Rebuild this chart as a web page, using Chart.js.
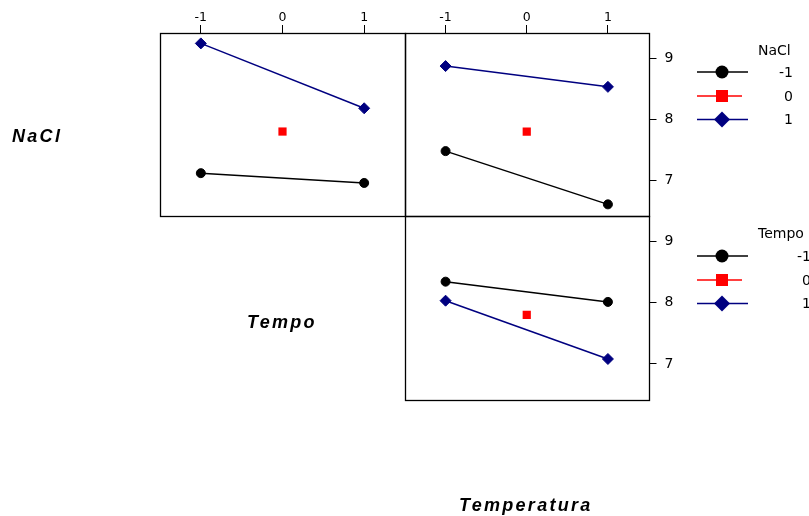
<!DOCTYPE html>
<html lang="pt">
<head>
<meta charset="UTF-8">
<title>Gráfico de interação</title>
<script src="https://cdn.jsdelivr.net/npm/chart.js"></script>
<style>
  body { margin: 0; background: #fff; overflow: hidden; }
  .area { position: relative; width: 809px; height: 516px; }
  .area canvas { position: absolute; left: 0; top: 0; }
  .fator {
    position: absolute;
    font-family: "Liberation Sans", Arial, sans-serif;
    font-weight: bold;
    font-style: italic;
    font-size: 18px;
    line-height: 18px;
    letter-spacing: 2.3px;
    color: #000;
    white-space: nowrap;
  }
</style>
</head>
<body>
<div class="area">
  <canvas id="g1" width="809" height="516"></canvas>
  <canvas id="g2" width="809" height="516"></canvas>
  <canvas id="g3" width="809" height="516"></canvas>
  <div class="fator" style="left:12px; top:127px">NaCl</div>
  <div class="fator" style="left:247px; top:313px">Tempo</div>
  <div class="fator" style="left:459px; top:496px">Temperatura</div>
</div>

<script>
// níveis codificados
const niveis = ['-1', '0', '1'];
const xExtremos = [-1, 1];
const xCentro = [0];
const xTicks = [-1, 0, 1];
const yTicks = [7, 8, 9];

// NaCl x Tempo (médias)
const tempo_nacl_m1 = [7.12, 6.96];
const tempo_nacl_0 = [7.80];
const tempo_nacl_p1 = [9.24, 8.18];

// NaCl x Temperatura
const temp_nacl_m1 = [7.48, 6.61];
const temp_nacl_0 = [7.80];
const temp_nacl_p1 = [8.87, 8.53];

// Tempo x Temperatura
const temp_tempo_m1 = [8.34, 8.01];
const temp_tempo_0 = [7.80];
const temp_tempo_p1 = [8.03, 7.08];

Chart.defaults.font.family = '"DejaVu Sans", Verdana, sans-serif';
Chart.defaults.color = '#000';

function pontos(xs, ys) {
  return xs.map((x, i) => ({ x: x, y: ys[i] }));
}

function series(m1, c0, p1) {
  return [
    { data: pontos(xExtremos, m1), borderColor: '#000', backgroundColor: '#000',
      borderWidth: 1.5, pointStyle: 'circle', pointRadius: 4.5, pointBorderWidth: 1 },
    { data: pontos(xCentro, c0), borderColor: '#ff0000', backgroundColor: '#ff0000',
      borderWidth: 1.5, pointStyle: 'rect', pointRadius: 5.8, pointBorderWidth: 0, showLine: false },
    { data: pontos(xExtremos, p1), borderColor: '#000080', backgroundColor: '#000080',
      borderWidth: 1.5, pointStyle: 'rectRot', pointRadius: 5.5, pointBorderWidth: 1 }
  ];
}

// moldura de cada painel
const moldura = {
  id: 'moldura',
  afterDraw(chart) {
    const a = chart.chartArea, ctx = chart.ctx;
    const x0 = Math.round(a.left), x1 = Math.round(a.right);
    const y0 = Math.round(a.top), y1 = Math.round(a.bottom);
    ctx.save();
    ctx.strokeStyle = '#000';
    ctx.lineWidth = 1.3;
    ctx.strokeRect(x0 + 0.5, y0 + 0.5, x1 - x0, y1 - y0);
    ctx.restore();
  }
};

// legenda desenhada ao lado do painel
const legenda = {
  id: 'legenda',
  afterDraw(chart, args, o) {
    if (!o.titulo) return;
    const ctx = chart.ctx;
    ctx.save();
    ctx.font = '14px "DejaVu Sans", Verdana, sans-serif';
    ctx.fillStyle = '#000';
    ctx.textAlign = 'left';
    ctx.textBaseline = 'alphabetic';
    ctx.fillText(o.titulo, 758, o.yTitulo);
    const fins = [748, 742, 748];
    chart.data.datasets.forEach((ds, i) => {
      const y = o.linhas[i];
      const cor = ds.borderColor;
      ctx.strokeStyle = cor;
      ctx.fillStyle = cor;
      ctx.lineWidth = 1.5;
      ctx.beginPath();
      ctx.moveTo(697, y);
      ctx.lineTo(fins[i], y);
      ctx.stroke();
      const mx = 722;
      ctx.beginPath();
      if (ds.pointStyle === 'circle') {
        ctx.arc(mx, y, 6.5, 0, Math.PI * 2);
      } else if (ds.pointStyle === 'rect') {
        ctx.rect(mx - 6, y - 6, 12, 12);
      } else {
        ctx.moveTo(mx - 8, y);
        ctx.lineTo(mx, y - 8);
        ctx.lineTo(mx + 8, y);
        ctx.lineTo(mx, y + 8);
        ctx.closePath();
      }
      ctx.fill();
      ctx.fillStyle = '#000';
      ctx.textAlign = 'right';
      ctx.textBaseline = 'middle';
      ctx.fillText(niveis[i], o.xRotulo, y + 1);
    });
    ctx.restore();
  }
};

function painel(id, dados, pad, eixoX, eixoY, leg) {
  new Chart(document.getElementById(id), {
    type: 'line',
    data: { datasets: dados },
    options: {
      responsive: false,
      animation: false,
      layout: { padding: pad },
      plugins: {
        legend: { display: false },
        tooltip: { enabled: false },
        legenda: leg || {}
      },
      scales: {
        x: {
          type: 'linear',
          position: 'top',
          display: eixoX,
          min: -1.5,
          max: 1.5,
          afterBuildTicks: s => { s.ticks = xTicks.map(v => ({ value: v })); },
          afterFit: s => { s.height = eixoX ? 33 : 0; },
          grid: { drawOnChartArea: false, tickLength: 8, color: '#000', lineWidth: 1 },
          border: { display: false },
          ticks: { font: { size: 12.5 }, padding: 0, maxRotation: 0 }
        },
        y: {
          type: 'linear',
          position: 'right',
          display: eixoY,
          min: 6.42,
          max: 9.41,
          afterBuildTicks: s => { s.ticks = yTicks.map(v => ({ value: v })); },
          afterFit: s => { s.width = eixoY ? 160.5 : 0; },
          grid: { drawOnChartArea: false, tickLength: 8, color: '#000', lineWidth: 1 },
          border: { display: false },
          ticks: { font: { size: 14 }, padding: 8 }
        }
      }
    },
    plugins: [moldura, legenda]
  });
}

// NaCl (linhas) por Tempo (eixo x)
painel('g1', series(tempo_nacl_m1, tempo_nacl_0, tempo_nacl_p1),
  { left: 160, right: 404, top: 0, bottom: 300 }, true, false);

// NaCl (linhas) por Temperatura (eixo x)
painel('g2', series(temp_nacl_m1, temp_nacl_0, temp_nacl_p1),
  { left: 405, right: 0, top: 0, bottom: 300 }, true, true,
  { titulo: 'NaCl', yTitulo: 55, linhas: [72, 96, 119.5], xRotulo: 793 });

// Tempo (linhas) por Temperatura (eixo x)
painel('g3', series(temp_tempo_m1, temp_tempo_0, temp_tempo_p1),
  { left: 405, right: 0, top: 216, bottom: 116.5 }, false, true,
  { titulo: 'Tempo', yTitulo: 238, linhas: [256, 280, 303.5], xRotulo: 811 });
</script>
</body>
</html>
